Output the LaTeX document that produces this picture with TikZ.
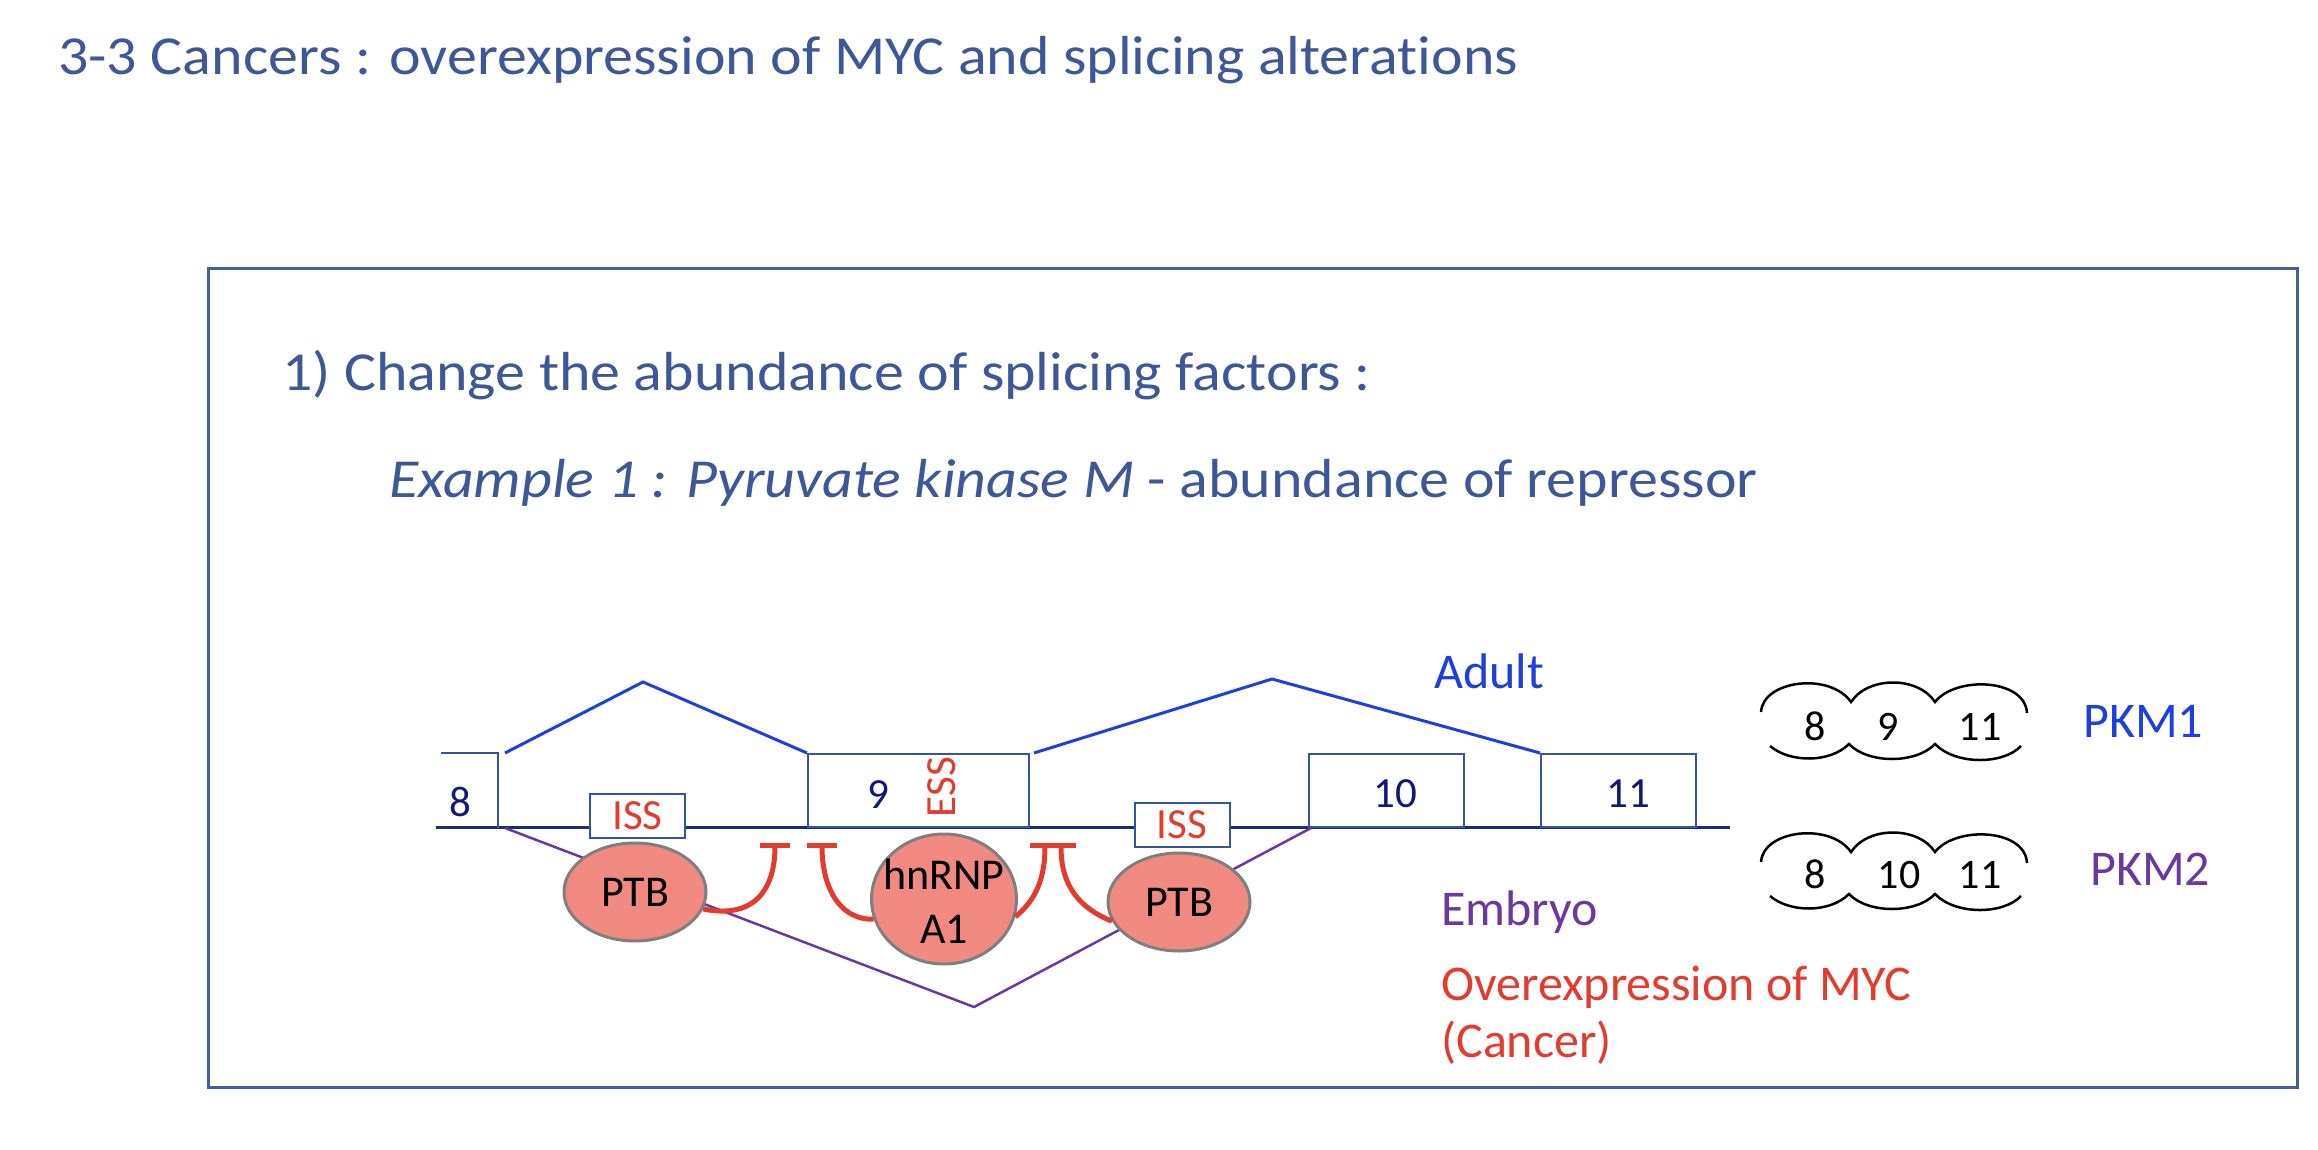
\documentclass[tikz,border=0pt]{standalone}
\usepackage{fontspec}
\setmainfont{Carlito}
\newfontfamily\headfont[FakeStretch=1.09,Ligatures=NoCommon]{Carlito}
\usetikzlibrary{arrows.meta,positioning,shapes.geometric}
\definecolor{titleblue}{HTML}{3E5897}
\definecolor{framecol}{HTML}{445E98}
\definecolor{exonedge}{HTML}{34579A}
\definecolor{intron}{HTML}{1C2A7E}
\definecolor{exonnum}{HTML}{10197A}
\definecolor{adultblue}{HTML}{1E3FE0}
\definecolor{embpurple}{HTML}{6B38A0}
\definecolor{inhred}{HTML}{E33B2E}
\definecolor{ptbfill}{HTML}{F08A80}
\definecolor{ptbedge}{HTML}{7F7F7F}

\begin{document}
\begin{tikzpicture}[x=1pt,y=-1pt,
    head/.style={font=\headfont\fontsize{55}{66}\selectfont,text=titleblue,anchor=base west,inner sep=0pt},
    exon/.style={draw=exonedge,line width=2pt,fill=white,minimum height=73pt,inner sep=0pt},
    exnum/.style={font=\fontsize{43}{50}\selectfont,text=exonnum,inner sep=0pt},
    iss/.style={draw=exonedge,line width=2pt,fill=white,minimum width=95pt,minimum height=44pt,
      inner sep=0pt,font=\fontsize{43}{50}\selectfont,text=inhred},
    factor/.style={ellipse,draw=ptbedge,line width=3pt,fill=ptbfill,minimum width=142pt,
      minimum height=98pt,inner sep=0pt,font=\fontsize{44}{53}\selectfont},
    adult/.style={draw=adultblue,line width=3pt},
    embryo/.style={draw=embpurple,line width=2.5pt},
    inhib/.style={draw=inhred,line width=5pt,-{Bar[width=30pt]}},
    tag/.style={font=\fontsize{50}{60}\selectfont,anchor=base west,inner sep=0pt},
    lobe/.style={draw=black,line width=2.5pt},
    lobenum/.style={font=\fontsize{42}{50}\selectfont,anchor=base,inner sep=0pt}]

  \useasboundingbox (0,0) rectangle (2318,1150);

  % headings
  \node[head] (title) at (58,75) {3-3 Cancers : overexpression of MYC and splicing alterations};
  \draw[framecol,line width=3pt] (208,269) rectangle (2297,1087);
  \node[head] (point) at (282,390) {1) Change the abundance of splicing factors :};
  \node[head] (example) at (389,497) {\textit{Example 1 : Pyruvate kinase M} - abundance of repressor};

  % pre-mRNA
  \coordinate (intronL) at (436,827);
  \coordinate (intronR) at (1730,827);
  \draw[intron,line width=3pt] (intronL) -- (intronR);

  \node[exon,draw=none,fill=none,minimum width=55pt] (ex8) at (469.5,790.5) {};
  \draw[exonedge,line width=2pt] (ex8.north west) -- (ex8.north east) -- (ex8.south east);
  \node[exon,minimum width=221pt] (ex9) at (918.5,790.5) {};
  \node[exon,minimum width=155pt] (ex10) at (1386.5,790.5) {};
  \node[exon,minimum width=155pt] (ex11) at (1618.5,790.5) {};

  \node[exnum] (n8) at (460,802) {8};
  \node[exnum] (n9) at (878,795) {9};
  \node[exnum,text=inhred,rotate=90] (ess) at (942,787) {ESS};
  \node[exnum] (n10) at (1395,794) {10};
  \node[exnum] (n11) at (1628,794) {11};

  % splicing paths
  \coordinate (peakA) at (643,682);
  \coordinate (peakB) at (1272,679);
  \coordinate (valley) at (974,1007);
  \draw[adult] ([xshift=7pt]ex8.north east) -- (peakA) -- (ex9.north west);
  \draw[adult] ([xshift=4pt]ex9.north east) -- (peakB) -- (ex11.north west);
  \draw[embryo] ([xshift=7pt]ex8.south east) -- (valley) -- ([xshift=3pt]ex10.south west);

  \node[iss] (issL) at (637.5,816) {ISS};
  \node[iss] (issR) at (1182,825) {ISS};

  % splicing factors
  \node[factor] (ptbL) at (635,892) {PTB};
  \node[factor] (ptbR) at (1179,902) {PTB};
  \node[factor,minimum width=145pt,minimum height=130pt] (hnrnp) at (944,899) {};
  \node[font=\fontsize{44}{54}\selectfont,align=center,inner sep=0pt] (hnlabel) at (944,901) {hnRNP\\A1};

  \coordinate (barA) at (775,843);
  \coordinate (barB) at (822,843);
  \coordinate (barC) at (1045,843);
  \coordinate (barD) at (1061,843);
  \draw[inhib] (ptbL.-14) .. controls (758,920) and (775,885) .. (barA);
  \draw[inhib] (hnrnp.196) .. controls (838,920) and (822,885) .. (barB);
  \draw[inhib] (hnrnp.-14) .. controls (1036,900) and (1045,878) .. (barC);
  \draw[inhib] (ptbR.196) .. controls (1072,905) and (1061,878) .. (barD);

  % labels
  \node[tag,text=adultblue] (adult) at (1434,688) {Adult};
  \node[tag,text=embpurple] (embryo) at (1441,925) {Embryo};
  \node[tag,text=inhred] (myc) at (1441,1000) {Overexpression of MYC};
  \node[tag,text=inhred] (cancer) at (1441,1057) {(Cancer)};

  % mRNA isoforms
  \foreach \dy in {0,150} {
    \begin{scope}[yshift=-\dy pt]
      \draw[lobe] (1761,712) .. controls (1763,680) and (1830,672) .. (1851,702)
        .. controls (1868,676) and (1918,676) .. (1935,702)
        .. controls (1955,676) and (2025,678) .. (2027,713);
      \draw[lobe] (1770,746) .. controls (1790,763) and (1830,763) .. (1849,744)
        .. controls (1868,764) and (1916,764) .. (1935,744)
        .. controls (1955,765) and (2003,765) .. (2021,746);
    \end{scope}
  }
  \node[lobenum] (m1a) at (1815,740) {8};
  \node[lobenum] (m1b) at (1888,740) {9};
  \node[lobenum] (m1c) at (1980,740) {11};
  \node[lobenum] (m2a) at (1815,888) {8};
  \node[lobenum] (m2b) at (1899,888) {10};
  \node[lobenum] (m2c) at (1980,888) {11};
  \node[tag,text=adultblue] (pkm1) at (2083,737) {PKM1};
  \node[tag,text=embpurple] (pkm2) at (2090,885) {PKM2};
\end{tikzpicture}
\end{document}
